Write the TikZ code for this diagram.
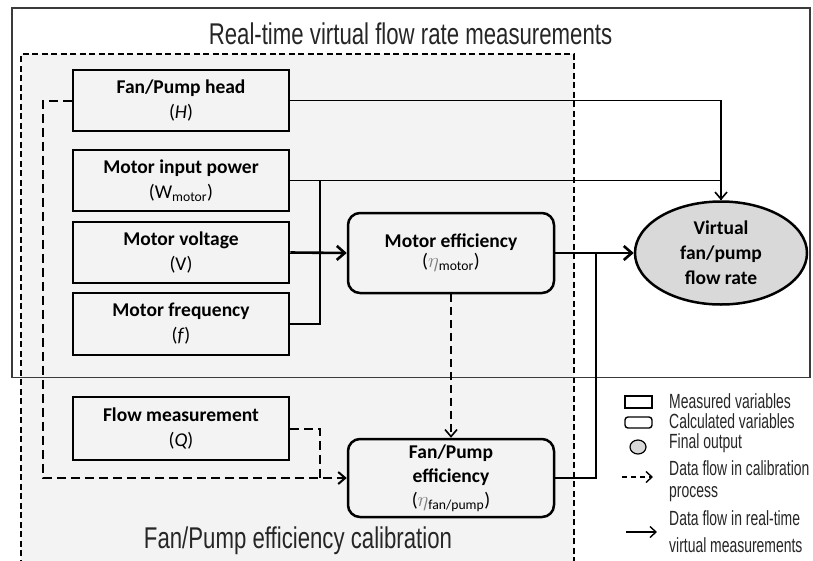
\documentclass[tikz,border=0pt]{standalone}
\usepackage{fontspec}
\setmainfont{Carlito}
\newfontfamily\agency[FakeStretch=0.74]{Liberation Sans}
\newfontfamily\agencyleg[FakeStretch=0.68]{Liberation Sans}
\usetikzlibrary{arrows.meta,shapes.geometric}
\definecolor{calbg}{HTML}{F3F3F3}
\definecolor{outfill}{HTML}{D9D9D9}
\definecolor{etacol}{HTML}{7F7F7F}
\definecolor{framecol}{HTML}{3A3A3A}
\newcommand{\etasym}{\textcolor{etacol}{$\eta$}}
\begin{document}
\begin{tikzpicture}[x=1pt,y=-1pt,
 every node/.style={inner sep=0pt},
 meas/.style={draw, line width=2.5pt, minimum width=216pt, minimum height=61pt, align=center, font=\fontsize{19.5}{25}\selectfont},
 calc/.style={meas, rounded corners=12pt, minimum width=206pt, minimum height=80pt},
 final/.style={ellipse, draw, line width=2.5pt, fill=outfill, minimum width=172pt, minimum height=103pt, align=center, font=\bfseries\fontsize{19.5}{25}\selectfont},
 conn/.style={line width=1.6pt},
 barb/.style={-{Straight Barb[length=7pt,width=12pt]}},
 bigbarb/.style={line width=2.6pt, -{Straight Barb[length=8pt,width=14pt]}},
 dconn/.style={line width=2pt, dash pattern=on 9pt off 5pt},
 dconnthin/.style={line width=1.6pt, dash pattern=on 8pt off 5pt},
 calframe/.style={line width=1.2pt, dash pattern=on 6pt off 3.5pt},
 outframe/.style={line width=1.6pt, draw=framecol},
 title/.style={font=\agency\fontsize{30}{30}\selectfont, text=black!85},
 legtext/.style={font=\agencyleg\fontsize{20.5}{20.5}\selectfont, anchor=base west, text=black!85},
]
\useasboundingbox (0,0) rectangle (813,560);
\clip (0,0) rectangle (813,560);
\fill[white] (0,0) rectangle (813,560);
\fill[calbg] (21,54) rectangle (574,575);
\draw[calframe] (21,575) -- (21,54) -- (574,54) -- (574,575);
\draw[outframe] (12,8) rectangle (810,377.5);

\node[title, anchor=base] (t1) at (410.5,44) {Real-time virtual flow rate measurements};
\node[title, anchor=base] (t2) at (298,548) {Fan/Pump efficiency calibration};

\node[meas] (head) at (181,100.5) {\textbf{Fan/Pump head}\\(\textit{H})};
\node[meas] (power) at (181,180.5) {\textbf{Motor input power}\\(W\textsubscript{motor})};
\node[meas] (volt) at (181,252.5) {\textbf{Motor voltage}\\(V)};
\node[meas, minimum height=62pt] (freq) at (181,324) {\textbf{Motor frequency}\\(\textit{f})};
\node[meas, minimum height=63pt] (flow) at (181,428.5) {\textbf{Flow measurement}\\(\textit{Q})};
\node[calc, font=\fontsize{19.5}{20}\selectfont] (meff) at (451,253) {\textbf{Motor efficiency}\\(\etasym\textsubscript{motor})};
\node[calc, minimum height=78pt, font=\fontsize{19.5}{24}\selectfont] (feff) at (451,478) {\textbf{Fan/Pump}\\\textbf{efficiency}\\(\etasym\textsubscript{fan/pump})};
\node[final] (out) at (721,253) {Virtual\\fan/pump\\flow rate};

\coordinate (bx) at (320,180.5);
\coordinate (jx) at (596,253);
\coordinate (dl) at (43,478);
\coordinate (dj) at (320,478);

\draw[conn, barb] (head.east) -| (out.north);
\draw[conn] (power.east) -| (out.north);
\draw[conn] (bx) |- (freq.east);
\draw[bigbarb] (volt.east) -- (meff.west);
\draw[conn] (meff.east) -- (jx);
\draw[bigbarb] (jx) -- (out.west);
\draw[conn] (feff.east) -| (jx);
\draw[dconnthin, barb] (meff.south) -- (feff.north);
\draw[dconn, barb] (head.west) -| (dl) -- (feff.west);
\draw[dconn] (flow.east) -| (dj);

% legend
\node[draw, line width=1.4pt, minimum width=27pt, minimum height=12pt] (lm) at (638.5,402) {};
\node[draw, line width=1.4pt, rounded corners=3pt, minimum width=27pt, minimum height=11pt] (lc) at (638.5,422.5) {};
\node[ellipse, draw, fill=outfill, line width=1.2pt, minimum width=16pt, minimum height=14pt] (lo) at (638,447) {};
\coordinate (lda) at (622,477);
\coordinate (ldb) at (653,477);
\coordinate (lsa) at (626,532);
\coordinate (lsb) at (657,532);
\draw[line width=1.4pt, dash pattern=on 5pt off 4pt, -{Straight Barb[length=6pt,width=11pt]}] (lda) -- (ldb);
\draw[line width=1.4pt, -{Straight Barb[length=6pt,width=11pt]}] (lsa) -- (lsb);
\node[legtext] (lt1) at (669,408) {Measured variables};
\node[legtext] (lt2) at (669,428) {Calculated variables};
\node[legtext] (lt3) at (669,448) {Final output};
\node[legtext] (lt4) at (669,475) {Data flow in calibration};
\node[legtext] (lt5) at (669,497) {process};
\node[legtext] (lt6) at (669,525) {Data flow in real-time};
\node[legtext] (lt7) at (669,552) {virtual measurements};
\end{tikzpicture}
\end{document}
